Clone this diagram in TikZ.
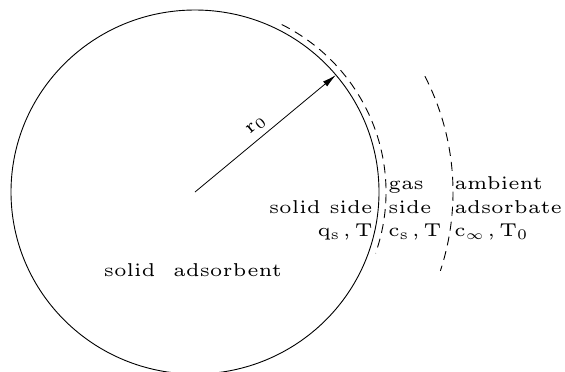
\documentclass[tikz,border=0pt]{standalone}
\usetikzlibrary{arrows.meta}

\font\lblfont=cmr5 at 9.3pt
\font\lblsub=cmr5 at 7.3pt
\font\lblsym=cmsy5 at 6.5pt
\newcommand{\lowidx}[1]{\raisebox{-1.6pt}{\lblsub #1}}

\begin{document}
\begin{tikzpicture}[
  x=0.5pt, y=-0.5pt,
  lbl/.style={font=\lblfont, inner sep=0pt},
  rim line/.style={line width=0.45pt},
  film/.style={line width=0.45pt, dash pattern=on 4.5pt off 3pt},
  radius arrow/.style={-{Latex[length=7pt, width=3.2pt]}, line width=0.4pt}
]
\useasboundingbox (0,0) rectangle (565,371);
\clip (0,0) rectangle (565,371);
\coordinate (O) at (195,192);
% particle and film boundaries
\draw[rim line] (O) ellipse [x radius=184, y radius=182];
\draw[film] (O) ++(-63:191 and 188) arc[start angle=-63, end angle=19, x radius=191, y radius=188];
\draw[film] (O) ++(-27:258 and 255) arc[start angle=-27, end angle=18, x radius=258, y radius=255];
\path (O) ++(-40:184 and 182) coordinate (rim);
\draw[radius arrow] (O) -- (rim);
\node[lbl, rotate=40] (radius) at (256,126) {r\lowidx{0}};
% region labels
\node[lbl, anchor=base] (adsorbent) at (193,276) {solid\ \ adsorbent};
\node[lbl, anchor=base east] (solidside) at (373,213) {solid side};
\node[lbl, anchor=base east] (solidstate) at (373,236) {q\lowidx{s}\,,\,T};
\node[lbl, anchor=base west] (gas) at (388,189) {gas};
\node[lbl, anchor=base west] (gasside) at (388,213) {side};
\node[lbl, anchor=base west] (gasstate) at (388,236) {c\lowidx{s}\,,\,T};
\node[lbl, anchor=base west] (ambient) at (454,189) {ambient};
\node[lbl, anchor=base west] (adsorbate) at (454,213) {adsorbate};
\node[lbl, anchor=base west] (ambstate) at (454,236) {c\lowidx{{\lblsym\char49}}\,,\,T\lowidx{0}};
\end{tikzpicture}
\end{document}
